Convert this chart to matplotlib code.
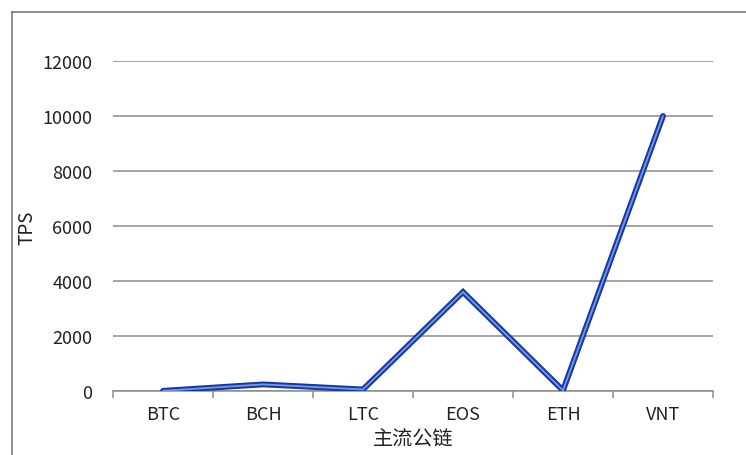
import matplotlib
matplotlib.use("Agg")
import matplotlib.pyplot as plt
from matplotlib.lines import Line2D

plt.rcParams['font.family'] = ['Noto Sans CJK SC', 'DejaVu Sans']

categories = ["BTC", "BCH", "LTC", "EOS", "ETH", "VNT"]
tps = [7, 240, 56, 3600, 20, 10000]
yticks = [0, 2000, 4000, 6000, 8000, 10000, 12000]

W, H = 746, 456
fig = plt.figure(figsize=(W / 100, H / 100), dpi=100)
ax = fig.add_axes([113 / W, 1 - 392 / H, 600 / W, 330 / H])

x = list(range(len(categories)))
ax.plot(x, tps, color="#1a36a0", lw=4.2, solid_capstyle="round", solid_joinstyle="miter", zorder=3)
ax.plot(x, tps, color="#6f9be8", lw=1.3, solid_capstyle="round", solid_joinstyle="miter", zorder=4)

ax.set_xlim(-0.5, len(categories) - 0.5)
ax.set_ylim(0, 12000)
ax.set_yticks(yticks)
ax.set_yticklabels([str(v) for v in yticks], fontsize=13, color="#222222")
ax.tick_params(axis="y", length=0, pad=15)
ax.yaxis.grid(True, color="#8c8c8c", lw=1.1)
ax.set_axisbelow(True)

ax.set_xticks([i - 0.5 for i in range(len(categories) + 1)])
ax.set_xticklabels([])
ax.set_xticks(x, minor=True)
ax.set_xticklabels(categories, minor=True, fontsize=13, color="#222222")
ax.tick_params(axis="x", which="major", length=5, color="#8c8c8c", width=1.1, direction="out")
ax.tick_params(axis="x", which="minor", length=0, pad=10)

for s in ["top", "right", "left"]:
    ax.spines[s].set_visible(False)
ax.spines["bottom"].set_color("#8c8c8c")
ax.spines["bottom"].set_linewidth(1.1)

fig.text(27 / W, 1 - 228 / H, "TPS", rotation=90, fontsize=13.5, color="#222222",
         ha="center", va="center")
fig.text(413 / W, 1 - 440 / H, "主流公链", fontsize=14.5, color="#222222",
         ha="center", va="center")

top = 1 - 12.5 / H
left = 11.5 / W
fig.add_artist(Line2D([left, 1.01], [top, top], transform=fig.transFigure, color="#7a7a7a", lw=1.2))
fig.add_artist(Line2D([left, left], [-0.01, top], transform=fig.transFigure, color="#7a7a7a", lw=1.2))

fig.savefig("out.png", dpi=100)
